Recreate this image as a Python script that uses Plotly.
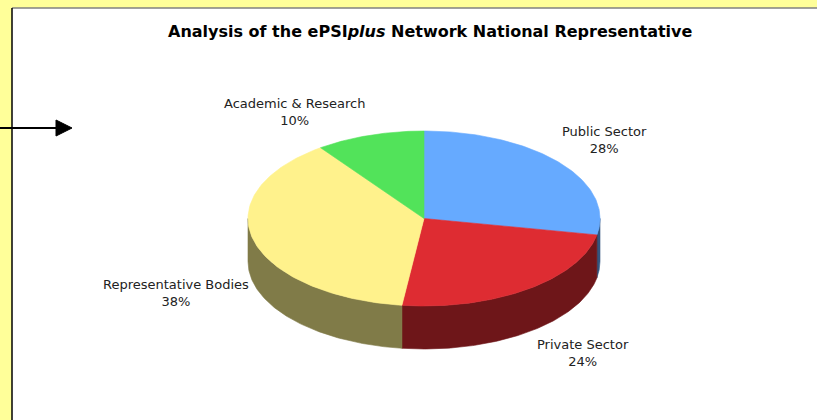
import numpy as np
import plotly.graph_objects as go

# ---- data ----
categories = ["Public Sector", "Private Sector", "Representative Bodies", "Academic & Research"]
shares = [28, 24, 38, 10]
title_text = "Analysis of the ePSI<i>plus</i> Network National Representative"

# ---- styles ----
top_colors = ["#66AAFF", "#DE2C32", "#FFF28C", "#52E35A"]
side_colors = ["#33557F", "#6E1619", "#807B48", "#297230"]
label_xy = [(604, 140), (583, 353), (176, 293), (294, 112)]

W, H = 817, 420
CX, CY, RX, RY, DEPTH = 424, 218.5, 176, 87.5, 43
START = 90.0
FONT = "DejaVu Sans, Verdana, sans-serif"


def arc(a0, a1, n=120):
    t = np.radians(np.linspace(a0, a1, n))
    return CX + RX * np.cos(t), CY - RY * np.sin(t)


fig = go.Figure()

total = float(sum(shares))
spans = []
a = START
for s in shares:
    a1 = a - 360.0 * s / total
    spans.append((a, a1))
    a = a1

# side walls (front half only)
for (a0, a1), col in zip(spans, side_colors):
    lo, hi = a1, a0
    for k in range(-2, 2):
        f_lo, f_hi = -180 + 360 * k, 360 * k
        s_lo, s_hi = max(lo, f_lo), min(hi, f_hi)
        if s_hi > s_lo:
            xs, ys = arc(s_hi, s_lo)
            px = np.concatenate([xs, xs[::-1], xs[:1]])
            py = np.concatenate([ys, ys[::-1] + DEPTH, ys[:1]])
            fig.add_trace(go.Scatter(x=px, y=py, mode="lines", fill="toself",
                                     fillcolor=col, line=dict(color=col, width=0.6),
                                     hoverinfo="skip", showlegend=False))

# top faces
for (a0, a1), col in zip(spans, top_colors):
    xs, ys = arc(a0, a1)
    px = np.concatenate([[CX], xs, [CX]])
    py = np.concatenate([[CY], ys, [CY]])
    fig.add_trace(go.Scatter(x=px, y=py, mode="lines", fill="toself",
                             fillcolor=col, line=dict(color=col, width=0.6),
                             hoverinfo="skip", showlegend=False))

# labels
for cat, s, (lx, ly) in zip(categories, shares, label_xy):
    fig.add_annotation(x=lx, y=ly, xref="x", yref="y", text=f"{cat}<br>{round(100*s/total)}%",
                       showarrow=False, xanchor="center", yanchor="middle",
                       font=dict(family=FONT, size=13, color="#222222"))

# title
fig.add_annotation(x=166, y=31, xref="x", yref="y", text="<b>" + title_text + "</b>",
                   showarrow=False, xanchor="left", yanchor="middle",
                   font=dict(family=FONT, size=16, color="#000000"))

shapes = [
    dict(type="rect", x0=12, y0=8, x1=W + 5, y1=H + 5, fillcolor="white",
         line=dict(width=0), layer="below"),
    dict(type="line", x0=12, y0=8, x1=W + 5, y1=8, line=dict(color="#808080", width=1.5)),
    dict(type="line", x0=12, y0=8, x1=12, y1=H + 5, line=dict(color="#000000", width=1.5)),
    dict(type="line", x0=0, y0=128, x1=58, y1=128, line=dict(color="#000000", width=2)),
    dict(type="path", path="M 56 120 L 72 128 L 56 136 Z", fillcolor="#000000",
         line=dict(color="#000000", width=1)),
]

fig.update_layout(
    width=W, height=H,
    margin=dict(l=0, r=0, t=0, b=0),
    paper_bgcolor="#FFFF99", plot_bgcolor="rgba(0,0,0,0)",
    shapes=shapes,
    xaxis=dict(range=[0, W], visible=False, fixedrange=True),
    yaxis=dict(range=[H, 0], visible=False, fixedrange=True),
    showlegend=False,
)

fig.write_html("out.html", config={"displayModeBar": False},
               post_script="document.body.style.margin='0';document.body.style.overflow='hidden';")
